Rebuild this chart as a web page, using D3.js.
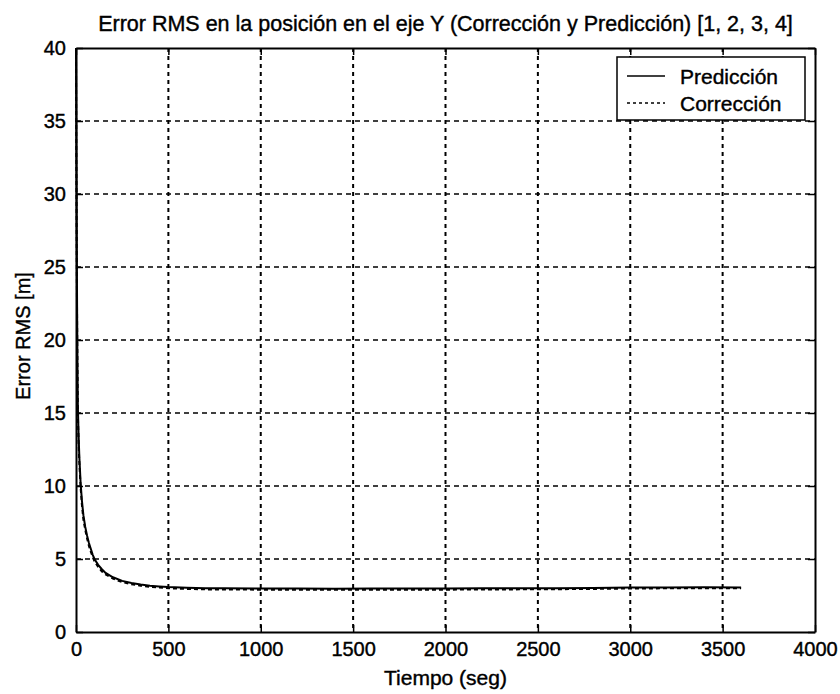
<!DOCTYPE html>
<html>
<head>
<meta charset="utf-8">
<script src="https://d3js.org/d3.v7.min.js"></script>
<title>Error RMS eje Y</title>
</head>
<style>
body { margin: 0; background: #fff; }
svg { display: block; }
text { font-family: "Liberation Sans", Arial, sans-serif; fill: #000; }
.heavy { stroke: #000; stroke-width: 0.4; }
</style>
<body>
<svg width="840" height="694"></svg>
</body>
<script>

// tiempo (seg) y error RMS (m)
let timeSec = [0, 2, 4, 6, 8, 10, 14, 18, 25, 32, 40, 50, 60, 70, 80, 90, 100, 120, 140, 160, 180, 200,
  250, 300, 350, 400, 450, 500, 600, 700, 800, 1000, 1200, 1400, 1600, 1800, 2000, 2200, 2400, 2600,
  2800, 3000, 3200, 3400, 3600];
let prediccion = [40, 33, 27, 22, 18.5, 15.5, 13.5, 12, 10.2, 9, 8, 7.2, 6.6, 6.1, 5.7, 5.3, 5.0, 4.6, 4.3, 4.05, 3.9, 3.75,
  3.5, 3.35, 3.25, 3.17, 3.12, 3.08, 3.03, 3.0, 2.99, 2.98, 2.98, 2.97, 2.98, 2.98, 2.98, 2.99, 2.99, 3.0,
  3.02, 3.05, 3.05, 3.06, 3.05];
let correccion = [40, 32, 26, 21, 17.8, 15, 13, 11.6, 9.9, 8.7, 7.7, 7.0, 6.4, 5.9, 5.5, 5.15, 4.85, 4.45, 4.15, 3.95, 3.8, 3.65,
  3.42, 3.27, 3.17, 3.1, 3.05, 3.0, 2.95, 2.92, 2.91, 2.9, 2.9, 2.9, 2.9, 2.9, 2.9, 2.91, 2.92, 2.93,
  2.95, 2.98, 2.99, 3.0, 3.0];

let xTicks = [0, 500, 1000, 1500, 2000, 2500, 3000, 3500, 4000];
let yTicks = [0, 5, 10, 15, 20, 25, 30, 35, 40];
let legendNames = ["Predicción", "Corrección"];

let margin = {left: 76, right: 25, top: 48, bottom: 62};
let width = 840 - margin.left - margin.right;
let height = 694 - margin.top - margin.bottom;

let svg = d3.select("svg");
let g = svg.append("g").attr("transform", "translate(" + margin.left + "," + margin.top + ")");

let x = d3.scaleLinear().domain([0, 4000]).range([0, width]);
let y = d3.scaleLinear().domain([0, 40]).range([height, 0]);

// grid
g.selectAll(".vgrid").data(xTicks.slice(1, -1)).enter().append("line")
  .attr("x1", d => x(d)).attr("x2", d => x(d))
  .attr("y1", 0).attr("y2", height)
  .attr("stroke", "#000").attr("stroke-width", 2).attr("stroke-dasharray", "4,4");
g.selectAll(".hgrid").data(yTicks.slice(1, -1)).enter().append("line")
  .attr("x1", 0).attr("x2", width)
  .attr("y1", d => y(d)).attr("y2", d => y(d))
  .attr("stroke", "#000").attr("stroke-width", 1.5).attr("stroke-dasharray", "5,4");

// axes (ticks inward, all four sides)
let fmt = d3.format("d");
let axB = d3.axisBottom(x).tickValues(xTicks).tickFormat(fmt).tickSizeInner(-7).tickSizeOuter(0).tickPadding(10);
let axL = d3.axisLeft(y).tickValues(yTicks).tickFormat(fmt).tickSizeInner(-7).tickSizeOuter(0).tickPadding(10);
let axT = d3.axisTop(x).tickValues(xTicks).tickSizeInner(-7).tickSizeOuter(0).tickFormat("");
let axR = d3.axisRight(y).tickValues(yTicks).tickSizeInner(-7).tickSizeOuter(0).tickFormat("");

g.append("g").attr("transform", "translate(0," + height + ")").call(axB);
g.append("g").call(axL);
g.append("g").call(axT);
g.append("g").attr("transform", "translate(" + width + ",0)").call(axR);

g.selectAll(".domain").attr("stroke", "#000").attr("stroke-width", 2);
g.selectAll(".tick line").attr("stroke", "#000").attr("stroke-width", 1.5);
g.selectAll(".tick text").style("font-size", "20px").attr("class", "heavy").attr("fill", "#000");

// curves
let line = d3.line().x((d, i) => x(timeSec[i])).y(d => y(d));
g.append("path").datum(correccion).attr("d", line)
  .attr("fill", "none").attr("stroke", "#000").attr("stroke-width", 2).attr("stroke-dasharray", "4,3");
g.append("path").datum(prediccion).attr("d", line)
  .attr("fill", "none").attr("stroke", "#000").attr("stroke-width", 2);

// legend
let lg = g.append("g").attr("transform", "translate(" + (width - 198) + ",9)");
lg.append("rect").attr("width", 188).attr("height", 63)
  .attr("fill", "#fff").attr("stroke", "#000").attr("stroke-width", 1.5);
legendNames.forEach(function(name, i) {
  let yy = 19 + i * 27;
  lg.append("line").attr("x1", 10).attr("x2", 48).attr("y1", yy).attr("y2", yy)
    .attr("stroke", "#000").attr("stroke-width", 1.5)
    .attr("stroke-dasharray", i == 0 ? null : "3,3");
  lg.append("text").attr("x", 63).attr("y", yy + 7.5).text(name)
    .attr("class", "heavy").style("font-size", "21px");
});

// labels
svg.append("text").attr("x", margin.left + width / 2).attr("y", 31)
  .attr("text-anchor", "middle").attr("class", "heavy").style("font-size", "21.5px")
  .text("Error RMS en la posición en el eje Y (Corrección y Predicción) [1, 2, 3, 4]");
svg.append("text").attr("x", margin.left + width / 2).attr("y", 685)
  .attr("text-anchor", "middle").attr("class", "heavy").style("font-size", "21px")
  .text("Tiempo (seg)");
svg.append("text").attr("transform", "translate(30,336) rotate(-90)")
  .attr("text-anchor", "middle").attr("class", "heavy").style("font-size", "20px")
  .text("Error RMS [m]");

</script>
</html>
